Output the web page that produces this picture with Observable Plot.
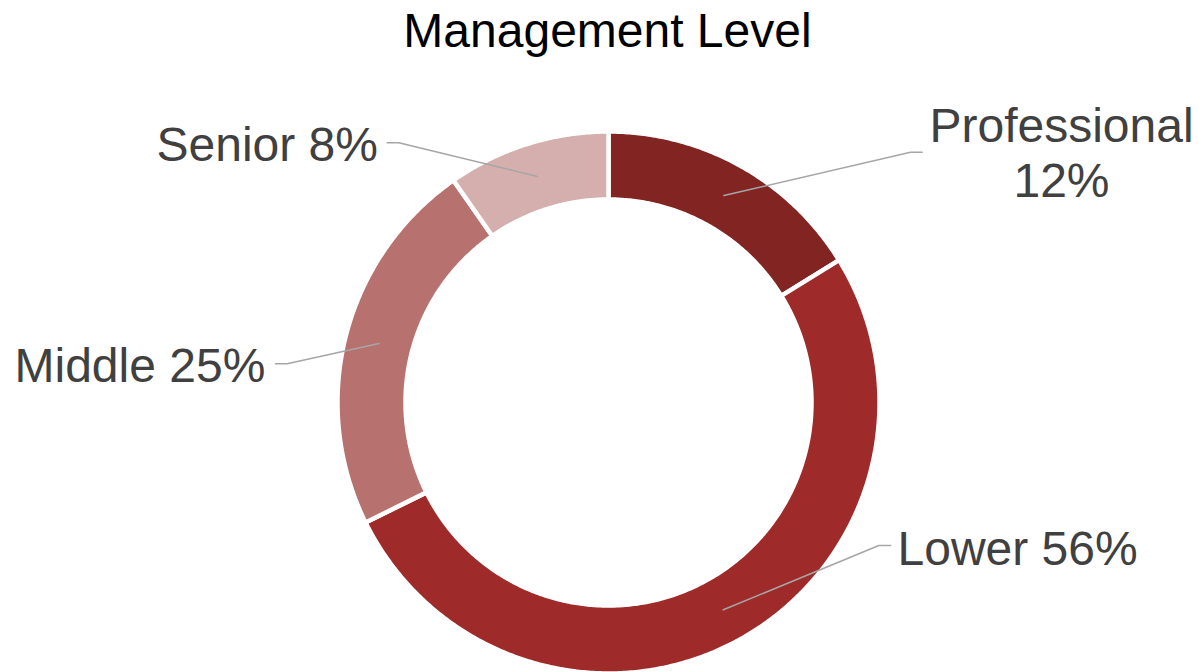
<!DOCTYPE html>
<html>
<head>
<meta charset="utf-8">
<script src="https://cdn.jsdelivr.net/npm/d3@7"></script>
<script src="https://cdn.jsdelivr.net/npm/@observablehq/plot@0.6"></script>
<style>
  html, body { margin: 0; padding: 0; background: #fff; }
  #title {
    width: 1199px; height: 60px; box-sizing: border-box; padding-top: 7px;
    font: 48px/48px "Liberation Sans", Arial, sans-serif; color: #000;
    text-align: center; padding-left: 16px;
  }
  svg { display: block; }
</style>
</head>
<body>
<div id="title">Management Level</div>
<div id="chart"></div>
<script>
// ---- data ----
const names = ["Professional", "Lower", "Middle", "Senior"];
const shares = [16.2, 51.5, 22.6, 9.7];          // slice sizes as drawn in the ring
const labelPct = ["12%", "56%", "25%", "8%"];     // percentages printed on the labels
const colors = ["#822421", "#9E2B29", "#B7716E", "#D5AFAE"];

// ---- layout ----
const W = 1199, H = 612;
const cx = 608, cy = 342;            // ring centre in svg pixels
const rOuter = 271, rInner = 203, rMid = 237;
const fontSize = 48;
const labelLayout = {
  Professional: {tx: 453, ty: 206, anchor: "middle", text: d => `${d.name}\n${d.pct}`, start: [313.7, 250.3], elbow: [302, 250.3]},
  Lower:        {tx: 289, ty: -162, anchor: "start", text: d => `${d.name} ${d.pct}`, start: [282, -143], elbow: [270.3, -143]},
  Middle:       {tx: -594, ty: 20.3, anchor: "start", text: d => `${d.name} ${d.pct}`, start: [-333, 38.7], elbow: [-321.3, 38.7]},
  Senior:       {tx: -452, ty: 242, anchor: "start", text: d => `${d.name} ${d.pct}`, start: [-221.3, 259.7], elbow: [-209.7, 259.7]}
};

// ---- derived slices ----
const total = d3.sum(shares);
let acc = 0;
const slices = names.map((name, i) => {
  const a0 = acc / total * 360;
  acc += shares[i];
  const a1 = acc / total * 360;
  return {name, pct: labelPct[i], a0, a1, mid: (a0 + a1) / 2};
});
const rad = Math.PI / 180;
const polar = (r, deg) => [r * Math.sin(deg * rad), r * Math.cos(deg * rad)];

const ringPts = [];
for (const s of slices) {
  const n = Math.max(8, Math.ceil((s.a1 - s.a0) / 0.5));
  for (let k = 0; k <= n; k++) {
    const [x, y] = polar(rOuter, s.a0 + (s.a1 - s.a0) * k / n);
    ringPts.push({name: s.name, x, y});
  }
  for (let k = n; k >= 0; k--) {
    const [x, y] = polar(rInner, s.a0 + (s.a1 - s.a0) * k / n);
    ringPts.push({name: s.name, x, y});
  }
}

const leaderPts = [];
const labels = [];
for (const s of slices) {
  const L = labelLayout[s.name];
  const [mx, my] = polar(rMid, s.mid);
  leaderPts.push({name: s.name, x: L.start[0], y: L.start[1]});
  leaderPts.push({name: s.name, x: L.elbow[0], y: L.elbow[1]});
  leaderPts.push({name: s.name, x: mx, y: my});
  labels.push({name: s.name, x: L.tx, y: L.ty, anchor: L.anchor, text: L.text(s)});
}

const chart = Plot.plot({
  width: W, height: H,
  margin: 0,
  style: {background: "#fff", overflow: "visible"},
  x: {domain: [-cx, W - cx], range: [0, W], axis: null},
  y: {domain: [-(H - cy), cy], range: [H, 0], axis: null},
  color: {domain: names, range: colors},
  marks: [
    Plot.line(ringPts, {x: "x", y: "y", z: "name", fill: "name", stroke: "#fff", strokeWidth: 4.5, strokeLinejoin: "round", curve: "linear-closed"}),
    Plot.line(leaderPts, {x: "x", y: "y", z: "name", stroke: "#A6A6A6", strokeWidth: 1.6, curve: "linear"}),
    Plot.text(labels.filter(d => d.anchor === "start"), {x: "x", y: "y", text: "text", textAnchor: "start", lineAnchor: "bottom", fontSize, fill: "#404040", fontFamily: "Liberation Sans, Arial, sans-serif"}),
    Plot.text(labels.filter(d => d.anchor === "middle"), {x: "x", y: "y", text: "text", textAnchor: "middle", lineAnchor: "bottom", lineHeight: 1.13, fontSize, fill: "#404040", fontFamily: "Liberation Sans, Arial, sans-serif"})
  ]
});
document.getElementById("chart").appendChild(chart);
</script>
</body>
</html>
